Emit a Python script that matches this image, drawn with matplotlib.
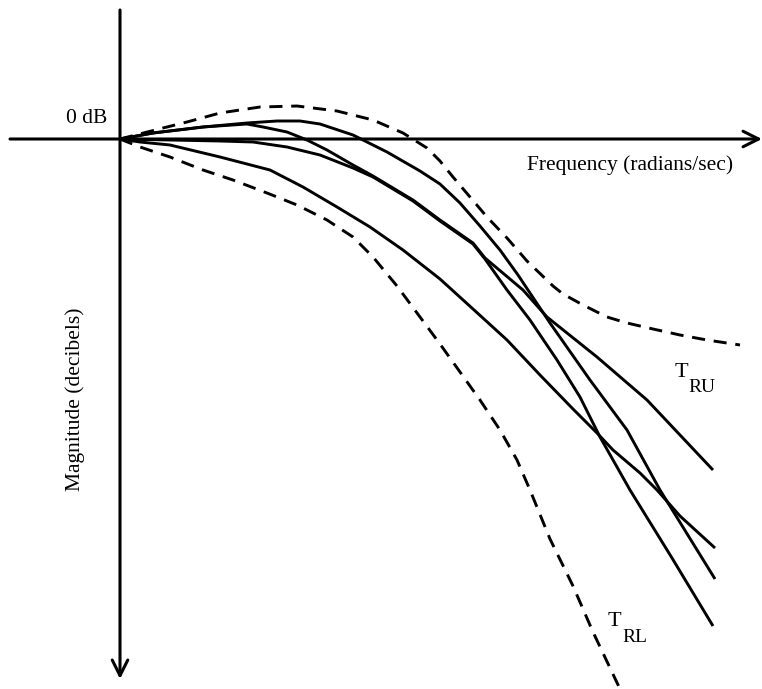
import matplotlib.pyplot as plt

# frequency offset from the origin, magnitude in arbitrary dB units (0 = 0 dB line)
upper_f = [0, 43, 67, 100, 140, 177, 217, 253, 283, 307, 320, 333, 350, 367, 387, 407, 433, 443, 463, 487, 507, 533, 560, 587, 620]
upper_m = [0, 11, 17, 26, 32, 33, 28, 19, 6, -9, -22, -38, -58, -78, -99, -122, -147, -155, -166, -178, -184, -190, -196, -201, -206]

lower_f = [0, 20, 50, 83, 113, 147, 177, 207, 233, 253, 277, 300, 320, 340, 360, 380, 397, 410, 430, 453, 473, 500]
lower_m = [0, -8, -18, -31, -41, -54, -66, -81, -98, -118, -147, -178, -205, -233, -261, -291, -321, -351, -400, -447, -493, -550]

a_f = [0, 33, 83, 127, 157, 180, 200, 233, 267, 300, 320, 340, 360, 380, 398, 410, 430, 470, 507, 540, 595]
a_m = [0, 6, 12, 16, 18, 18, 15, 4, -13, -32, -45, -64, -87, -111, -136, -154, -184, -241, -291, -351, -440]

b_f = [0, 33, 83, 127, 143, 167, 187, 207, 233, 253, 293, 320, 353, 365, 403, 427, 477, 527, 593]
b_m = [0, 6, 12, 15, 12, 7, -1, -11, -26, -37, -61, -81, -104, -119, -151, -178, -218, -261, -331]

c_f = [0, 50, 100, 133, 167, 200, 233, 253, 293, 320, 353, 365, 387, 410, 437, 460, 480, 497, 510, 552, 593]
c_m = [0, -1, -2, -3, -8, -16, -29, -38, -62, -82, -105, -120, -151, -181, -221, -258, -298, -328, -351, -419, -487]

d_f = [0, 20, 50, 100, 150, 183, 217, 250, 283, 320, 353, 387, 420, 453, 477, 493, 520, 537, 560, 595]
d_m = [0, -3, -6, -18, -31, -48, -68, -88, -111, -140, -170, -201, -236, -270, -294, -311, -334, -351, -377, -409]

plt.rcParams['font.family'] = ['Liberation Serif', 'DejaVu Serif']

fig = plt.figure(figsize=(7.62, 6.89), dpi=100, facecolor='white')
ax = fig.add_axes([0, 0, 1, 1])
ax.set_xlim(-120, 642)
ax.set_ylim(-550, 139)
ax.set_axis_off()

# axes drawn as arrows
ax.annotate('', xy=(642, 0), xytext=(-110, 0),
            arrowprops=dict(arrowstyle='->', lw=2.2, color='black', mutation_scale=28,
                            shrinkA=0, shrinkB=0))
ax.annotate('', xy=(0, -540), xytext=(0, 129),
            arrowprops=dict(arrowstyle='->', lw=2.2, color='black', mutation_scale=28,
                            shrinkA=0, shrinkB=0))

sty = dict(color='black', lw=2.1, solid_joinstyle='round', solid_capstyle='butt')
for f, m in [(a_f, a_m), (b_f, b_m), (c_f, c_m), (d_f, d_m)]:
    ax.plot(f, m, **sty)
for f, m in [(upper_f, upper_m), (lower_f, lower_m)]:
    ax.plot(f, m, color='black', lw=2.1, dashes=(4.5, 3))

ax.text(-13, 16, '0 dB', fontsize=15.5, ha='right', va='baseline')
ax.text(407, -31, 'Frequency (radians/sec)', fontsize=15.5, ha='left', va='baseline')
ax.text(-45, -260, 'Magnitude (decibels)', fontsize=15.5, rotation=90, ha='center', va='center')

ax.text(555, -238, 'T', fontsize=16, ha='left', va='baseline')
ax.text(568, -253, 'RU', fontsize=14, ha='left', va='baseline')
ax.text(488, -487, 'T', fontsize=16, ha='left', va='baseline')
ax.text(502, -503, 'RL', fontsize=14, ha='left', va='baseline')

plt.savefig('out.png', dpi=100, facecolor='white')
